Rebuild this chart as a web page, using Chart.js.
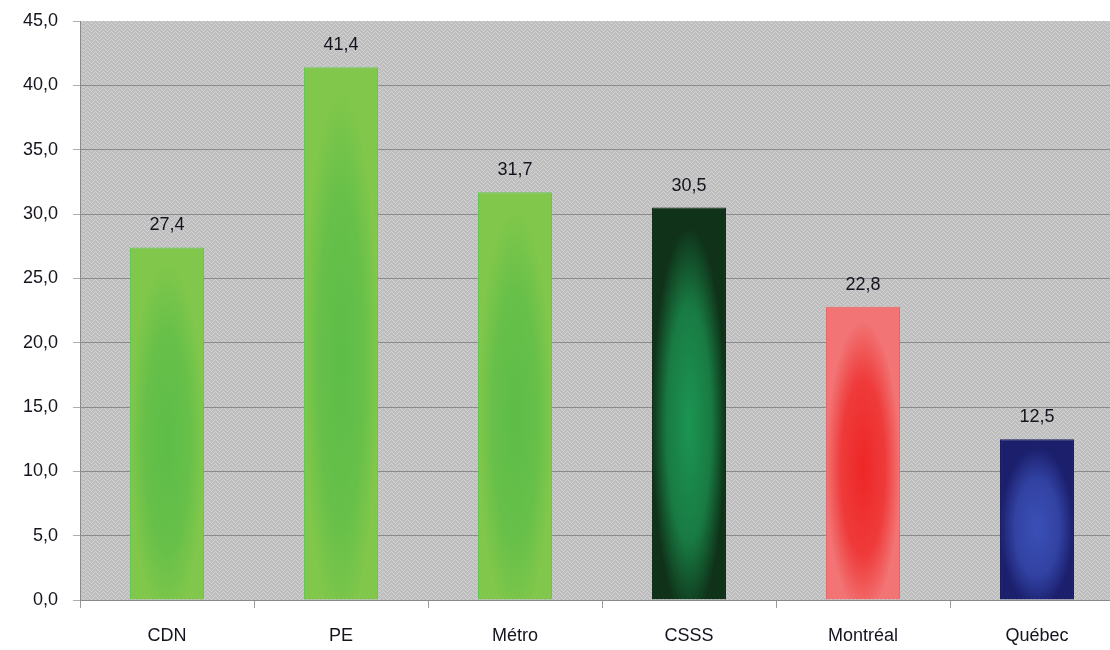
<!DOCTYPE html>
<html>
<head>
<meta charset="utf-8">
<script src="https://cdn.jsdelivr.net/npm/chart.js@4.4.0/dist/chart.umd.min.js"></script>
<style>
  html, body { margin: 0; padding: 0; background: #ffffff; overflow: hidden; }
  #wrap { width: 1124px; height: 650px; }
</style>
</head>
<body>
<div id="wrap"><canvas id="c" width="1124" height="650"></canvas></div>
<script>
const categories = ['CDN', 'PE', 'Métro', 'CSSS', 'Montréal', 'Québec'];
const values = [27.4, 41.4, 31.7, 30.5, 22.8, 12.5];
const yTicks = [0, 5, 10, 15, 20, 25, 30, 35, 40, 45];
const edgeColors = ['#80c74b', '#80c74b', '#80c74b', '#0f3219', '#f27474', '#1b1f6c'];
const centerColors = ['#5dbd48', '#5dbd48', '#5dbd48', '#1c9552', '#ee2626', '#3a4fb6'];
const borderColors = ['#62c84c', '#62c84c', '#62c84c', '#0c2a14', '#e86464', '#161a5e'];

const BAR_PCT = 0.425;
const fmt = v => v.toFixed(1).replace('.', ',');

function makeBgPattern(ctx) {
  const c = document.createElement('canvas');
  c.width = 8; c.height = 8;
  const g = c.getContext('2d');
  g.fillStyle = '#bebebe';
  g.fillRect(0, 0, 8, 8);
  g.fillStyle = '#d3d3d3';
  const pts = [[0,0],[1,1],[2,2],[3,3],[4,2],[5,1],[6,0],[7,7],[0,4],[1,5],[2,6],[3,7],[4,6],[5,5],[6,4],[7,3]];
  pts.forEach(p => g.fillRect(p[0], p[1], 1, 1));
  return ctx.createPattern(c, 'repeat');
}

function barFill(context) {
  const chart = context.chart;
  const i = context.dataIndex;
  if (!chart.chartArea || i === undefined) return edgeColors[i || 0];
  const xs = chart.scales.x, ys = chart.scales.y;
  const cw = (xs.right - xs.left) / categories.length;
  const w = Math.max(2, Math.round(cw * BAR_PCT));
  const cx = xs.getPixelForValue(i);
  const top = ys.getPixelForValue(values[i]);
  const base = ys.getPixelForValue(0);
  const h = Math.max(2, Math.round(base - top));
  const off = document.createElement('canvas');
  off.width = w; off.height = h;
  const g = off.getContext('2d');
  g.fillStyle = edgeColors[i];
  g.fillRect(0, 0, w, h);
  g.save();
  g.translate(w / 2, h * 0.55);
  g.scale(w / 2, h / 2);
  const rg = g.createRadialGradient(0, 0, 0, 0, 0, 1);
  rg.addColorStop(0, centerColors[i]);
  rg.addColorStop(0.6, centerColors[i] + 'bb');
  rg.addColorStop(1, centerColors[i] + '00');
  g.fillStyle = rg;
  g.fillRect(-1, -1.2, 2, 2.4);
  g.restore();
  const pat = chart.ctx.createPattern(off, 'no-repeat');
  pat.setTransform(new DOMMatrix([1, 0, 0, 1, cx - w / 2, top]));
  return pat;
}

const bgPlugin = {
  id: 'plotBg',
  beforeDraw(chart) {
    const { ctx, chartArea: a } = chart;
    ctx.save();
    ctx.fillStyle = '#ffffff';
    ctx.fillRect(0, 0, chart.width, chart.height);
    ctx.fillStyle = makeBgPattern(ctx);
    ctx.fillRect(a.left, a.top, a.right - a.left, a.bottom - a.top);
    ctx.restore();
  }
};

const labelPlugin = {
  id: 'valueLabels',
  afterDatasetsDraw(chart) {
    const { ctx } = chart;
    const meta = chart.getDatasetMeta(0);
    ctx.save();
    ctx.font = '18px "Liberation Sans", Arial, sans-serif';
    ctx.fillStyle = '#14141e';
    ctx.textAlign = 'center';
    ctx.textBaseline = 'middle';
    meta.data.forEach((el, i) => {
      ctx.fillText(fmt(values[i]), el.x, el.y - 22);
    });
    ctx.restore();
  }
};

new Chart(document.getElementById('c'), {
  type: 'bar',
  data: {
    labels: categories,
    datasets: [{
      data: values,
      backgroundColor: barFill,
      borderColor: borderColors,
      borderWidth: 1,
      borderSkipped: 'bottom',
      barPercentage: BAR_PCT,
      categoryPercentage: 1
    }]
  },
  options: {
    responsive: false,
    animation: false,
    devicePixelRatio: 1,
    layout: { padding: { top: 21, left: 0, right: 0, bottom: 0 } },
    plugins: { legend: { display: false }, tooltip: { enabled: false } },
    scales: {
      x: {
        offset: true,
        grid: { offset: true, drawOnChartArea: false, drawTicks: true, tickLength: 8, color: '#9a9a9a' },
        border: { color: '#8a8a8a' },
        ticks: { padding: 17, color: '#14141e', font: { family: '"Liberation Sans", Arial, sans-serif', size: 18 } },
        afterFit(s) { s.height = 50; s.paddingLeft = 0; s.paddingRight = 0; }
      },
      y: {
        min: 0, max: 45,
        afterBuildTicks(s) { s.ticks = yTicks.map(v => ({ value: v })); },
        grid: {
          color: ctx => (ctx.tick && ctx.tick.value === 45) ? 'rgba(0,0,0,0)' : '#8a8a8a',
          tickColor: '#b0b0b0',
          tickLength: 7,
          lineWidth: 1
        },
        border: { color: '#8a8a8a' },
        ticks: {
          padding: 15,
          color: '#14141e',
          font: { family: '"Liberation Sans", Arial, sans-serif', size: 18 },
          callback: v => fmt(v)
        },
        afterFit(s) { s.width = 80; s.paddingTop = 0; s.paddingBottom = 0; }
      }
    }
  },
  plugins: [bgPlugin, labelPlugin]
});
</script>
</body>
</html>
